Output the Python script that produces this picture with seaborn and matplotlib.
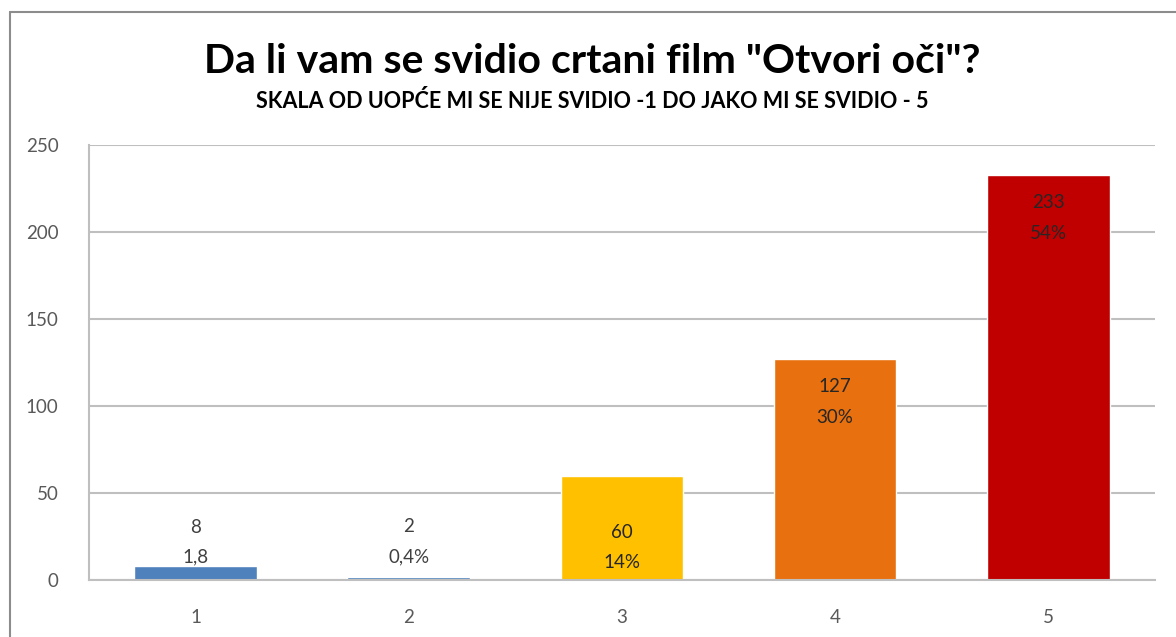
import matplotlib.pyplot as plt
import seaborn as sns
import pandas as pd
from matplotlib.lines import Line2D

# Data
ratings = ["1", "2", "3", "4", "5"]
counts = [8, 2, 60, 127, 233]
count_labels = ["8", "2", "60", "127", "233"]
pct_labels = ["1,8", "0,4%", "14%", "30%", "54%"]
colors = ["#4F81BD", "#4F81BD", "#FFC000", "#E8700E", "#C00000"]

title = "Da li vam se svidio crtani film \"Otvori oči\"?"
subtitle = "SKALA OD UOPĆE MI SE NIJE SVIDIO -1 DO JAKO MI SE SVIDIO - 5"

df = pd.DataFrame({"ocjena": ratings, "broj": counts})

sns.set_theme(style="white")
plt.rcParams["font.family"] = ["Lato", "DejaVu Sans"]

fig = plt.figure(figsize=(11.76, 6.37), dpi=100)
ax = fig.add_axes([0.0757, 0.0895, 0.9063, 0.6825])

sns.barplot(
    data=df,
    x="ocjena",
    y="broj",
    hue="ocjena",
    palette=colors,
    legend=False,
    width=0.575,
    saturation=1,
    ax=ax,
)

ax.set_ylim(0, 250)
ax.set_yticks([0, 50, 100, 150, 200, 250])
ax.yaxis.grid(True, color="#BFBFBF", linewidth=1.5)
ax.set_axisbelow(True)
ax.set_xlabel("")
ax.set_ylabel("")

for side in ["top", "right"]:
    ax.spines[side].set_visible(False)
ax.spines["left"].set_color("#BFBFBF")
ax.spines["bottom"].set_color("#BFBFBF")
ax.spines["left"].set_linewidth(1.5)
ax.spines["bottom"].set_linewidth(1.5)

ax.tick_params(axis="y", length=0, pad=22, labelsize=13.5, labelcolor="#595959")
ax.tick_params(axis="x", length=0, pad=21, labelsize=13.5, labelcolor="#595959")

# label offsets (pixels from bar top, negative = above)
offsets = [(-39, -9), (-50, -20), (57, 87), (27, 58), (28, 59)]
for i, bar in enumerate(ax.patches):
    cx = bar.get_x() + bar.get_width() / 2
    top = bar.get_height()
    txt_color = "#404040" if i < 2 else "#262626"
    for lab, off in zip([count_labels[i], pct_labels[i]], offsets[i]):
        ax.annotate(
            lab,
            xy=(cx, top),
            xytext=(0, -off * 0.72),
            textcoords="offset points",
            ha="center",
            va="center",
            fontsize=13.5,
            color=txt_color,
        )

fig.text(0.504, 0.903, title, ha="center", va="center",
         fontsize=29.5, fontweight="bold", color="#000000")
fig.text(0.504, 0.842, subtitle, ha="center", va="center",
         fontsize=15.5, fontweight="bold", color="#000000")

# outer chart border (left and top edges)
fig.add_artist(Line2D([10 / 1176, 10 / 1176], [0, 1 - 12 / 637],
                      transform=fig.transFigure, color="#8C8C8C", linewidth=1.5))
fig.add_artist(Line2D([10 / 1176, 1], [1 - 12 / 637, 1 - 12 / 637],
                      transform=fig.transFigure, color="#8C8C8C", linewidth=1.5))

fig.savefig("out.png", dpi=100)
plt.close(fig)
